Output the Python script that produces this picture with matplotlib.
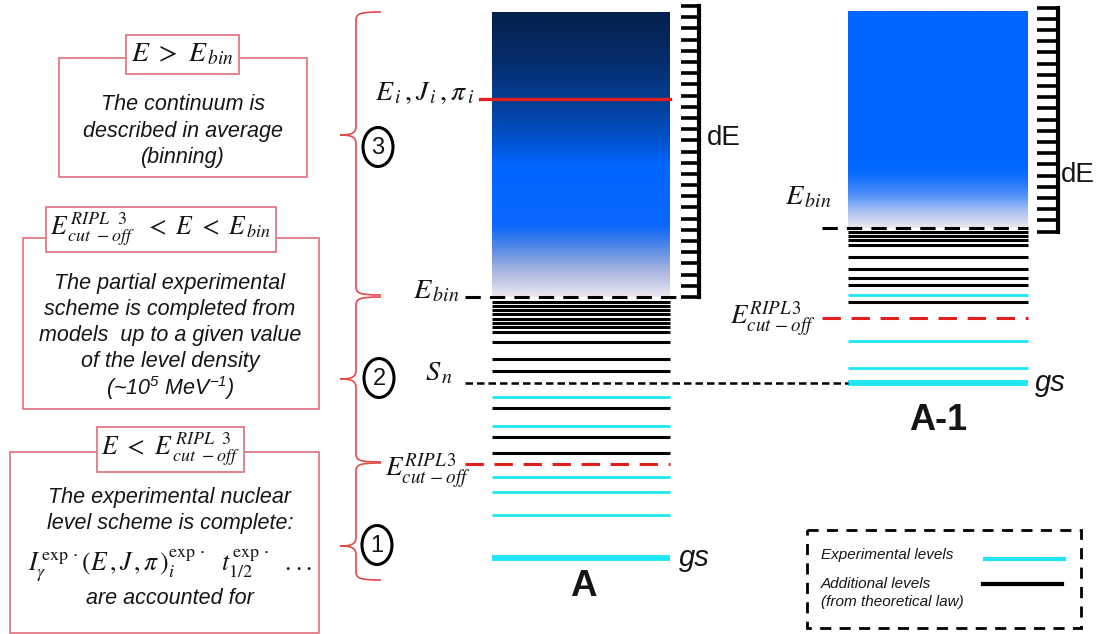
import numpy as np
import matplotlib
matplotlib.use('Agg')
import matplotlib.pyplot as plt
from matplotlib.patches import Rectangle, Ellipse, PathPatch
from matplotlib.path import Path
from matplotlib.colors import LinearSegmentedColormap

# ---------------- data (energies in MeV, arbitrary scale) ----------------
A_gs = 0.0
A_exp_levels = [1.43, 2.20, 2.70, 4.40, 5.37]
A_add_levels = [3.50, 4.03, 5.00, 6.23, 6.63, 7.20, 7.53, 7.70, 7.83, 7.97,
                8.13, 8.27, 8.40, 8.53]
A_cutoff = 3.12
A_Sn = 5.82
A_Ebin = 8.70
A_Ei = 15.3
A_top = 18.2

A1_gs = 0.0
A1_exp_levels = [0.52, 1.43, 2.93]
A1_add_levels = [2.70, 3.27, 3.53, 3.80, 4.20, 4.63, 4.77, 4.90, 5.03]
A1_cutoff = 2.17
A1_Ebin = 5.19
A1_top = 12.4

nucleus_labels = ['A', 'A-1']
legend_labels = ['Experimental levels', 'Additional levels\n(from theoretical law)']

# ---------------- style ----------------
CYAN = '#1EE6F4'
RED = '#E0201E'
PINK = '#E07A86'
BRACE = '#E24A4A'
TXT = '#151515'
plt.rcParams['mathtext.fontset'] = 'custom'
plt.rcParams['mathtext.rm'] = 'Liberation Sans:italic'
plt.rcParams['mathtext.it'] = 'Liberation Sans:italic'
plt.rcParams['font.family'] = ['Liberation Sans', 'DejaVu Sans']

W, H = 1101, 634
fig = plt.figure(figsize=(W / 100, H / 100), dpi=100)
ax = fig.add_axes([0, 0, 1, 1])          # pixel-coordinate annotation axes
ax.set_xlim(0, W); ax.set_ylim(H, 0); ax.axis('off')
axe = fig.add_axes([0, 0, 1, 1])         # energy axes
gs_px, px_per_mev = 558, 30.0
axe.axis('off')
axe.patch.set_alpha(0)

A_x = (492, 670)
A1_x = (848, 1028)
A1_off = A_Sn  # A-1 ground state sits at the neutron separation energy of A

# ---------------- continuum gradients ----------------
cmapA = LinearSegmentedColormap.from_list('cA', [
    (0.0, '#ECE8F2'), (0.095, '#A2B2DE'), (0.18, '#4C84E8'), (0.25, '#0A68FC'),
    (0.46, '#0066FF'), (0.55, '#0052CE'), (0.69, '#063E94'), (0.83, '#042C6C'),
    (1.0, '#04204C')])
cmapA1 = LinearSegmentedColormap.from_list('cA1', [
    (0.0, '#ECE8F0'), (0.074, '#AAC2F2'), (0.15, '#5090F8'), (0.245, '#0C6CFF'),
    (0.29, '#0066FF'), (1.0, '#0066FF')])
grad = np.linspace(0, 1, 400).reshape(-1, 1)
axe.imshow(grad, cmap=cmapA, origin='lower', aspect='auto',
           extent=[A_x[0], A_x[1], A_Ebin, A_top], zorder=1, interpolation='bilinear')
axe.imshow(grad, cmap=cmapA1, origin='lower', aspect='auto',
           extent=[A1_x[0], A1_x[1], A1_off + A1_Ebin, A1_off + A1_top], zorder=1,
           interpolation='bilinear')
axe.set_xlim(0, W)
axe.set_ylim((gs_px - H) / px_per_mev, gs_px / px_per_mev)

# ---------------- levels ----------------
axe.hlines(A_add_levels, *A_x, colors='black', lw=2.2, zorder=3)
axe.hlines(A_exp_levels, *A_x, colors=CYAN, lw=2.0, zorder=3)
axe.hlines([A_gs], *A_x, colors=CYAN, lw=4.2, zorder=3)
axe.hlines([A1_off + e for e in A1_add_levels], *A1_x, colors='black', lw=2.2, zorder=3)
axe.hlines([A1_off + e for e in A1_exp_levels], *A1_x, colors=CYAN, lw=2.0, zorder=3)
axe.hlines([A1_off + A1_gs], *A1_x, colors=CYAN, lw=4.2, zorder=3)

axe.plot([480, A_x[1]], [A_Ei, A_Ei], color=RED, lw=2.4, zorder=4)
axe.plot([465, A_x[1]], [A_cutoff] * 2, color=RED, lw=2.2, dashes=(6, 3.5), zorder=4)
axe.plot([822, A1_x[1]], [A1_off + A1_cutoff] * 2, color=RED, lw=2.2, dashes=(6, 3.5), zorder=4)
axe.plot([465, 684], [A_Ebin] * 2, color='black', lw=2.2, dashes=(5, 3), zorder=4)
axe.plot([822, A1_x[1]], [A1_off + A1_Ebin] * 2, color='black', lw=2.2, dashes=(5, 3), zorder=4)
axe.plot([465, A1_x[0]], [A_Sn] * 2, color='black', lw=1.8, dashes=(3, 1.6), zorder=4)

# ---------------- dE ladders ----------------
def ladder(x0, x1, e_lo, e_hi, n):
    ticks = np.linspace(e_lo, e_hi, n)
    axe.hlines(ticks, x0, x1, colors='black', lw=2.6, zorder=3)
    axe.plot([x1, x1], [e_lo, e_hi], color='black', lw=3, zorder=3,
             solid_capstyle='projecting')

ladder(681, 699, A_Ebin, A_top + 0.2, 27)
ladder(1037, 1058, A1_off + A1_Ebin - 0.13, A1_off + A1_top + 0.13, 21)

def elabel(x, e, dy_px, s, ha='right', va='baseline', size=20.5, **kw):
    axe.annotate(s, xy=(x, e), xytext=(0, -dy_px * 0.72), textcoords='offset points',
                 ha=ha, va=va, fontsize=size, color=TXT, math_fontfamily='stix',
                 zorder=6, **kw)

elabel(474, A_Ei, 1, r'$E_{\,i}\,,J_{\,i}\,,\pi_{\,i}$', size=20)
elabel(460, A_Ebin, 1, r'$E_{\,bin}$')
elabel(453, A_Sn, -3, r'$S_{\,n}$')
elabel(470, A_cutoff, 11, r'$E_{cut\,-off}^{RIPL\,3}$', size=19.5)
elabel(832, A1_off + A1_Ebin, -23, r'$E_{\,bin}$')
elabel(815, A1_off + A1_cutoff, 6, r'$E_{cut\,-off}^{RIPL\,3}$', size=19.5)

axe.annotate('gs', xy=(679, A_gs), xytext=(0, 0), textcoords='offset points',
             ha='left', va='center', fontsize=21, style='italic', color=TXT)
axe.annotate('gs', xy=(1035, A1_off + A1_gs), xytext=(0, 0), textcoords='offset points',
             ha='left', va='center', fontsize=21, style='italic', color=TXT)
ax.text(707, 138, 'dE', fontsize=20, ha='left', va='center', color=TXT)
ax.text(1061, 175, 'dE', fontsize=20, ha='left', va='center', color=TXT)
ax.text(583, 586, nucleus_labels[0], fontsize=26.5, fontweight='bold',
        ha='center', va='center', color=TXT)
ax.text(938, 421, nucleus_labels[1], fontsize=26, fontweight='bold',
        ha='center', va='center', color=TXT)

# ---------------- braces ----------------
def brace(y0, y1, ym, xe=381, xs=356, xt=340, r=9):
    verts = [(xe, y0), (xs + 2, y0), (xs, y0 + 2), (xs, y0 + r),
             (xs, ym - r),
             (xs, ym - 2), (xs - 4, ym), (xt, ym),
             (xs - 4, ym), (xs, ym + 2), (xs, ym + r),
             (xs, y1 - r),
             (xs, y1 - 2), (xs + 2, y1), (xe, y1)]
    codes = [Path.MOVETO, Path.CURVE4, Path.CURVE4, Path.CURVE4,
             Path.LINETO,
             Path.CURVE4, Path.CURVE4, Path.CURVE4,
             Path.CURVE4, Path.CURVE4, Path.CURVE4,
             Path.LINETO,
             Path.CURVE4, Path.CURVE4, Path.CURVE4]
    ax.add_patch(PathPatch(Path(verts, codes), fill=False, edgecolor=BRACE, lw=1.2))

brace(12, 295, 135)
brace(297, 462, 379)
brace(463, 580, 546)

for (cx, cy, n) in [(378, 147, '3'), (379, 378, '2'), (377, 545, '1')]:
    ax.add_patch(Ellipse((cx, cy), 30, 39, fill=False, edgecolor='black', lw=2.2))
    ax.text(cx, cy + 1, n, fontsize=17, ha='center', va='center', color=TXT)

# ---------------- explanation boxes ----------------
def box(outer, header, htext, lines, cx, ys, hsize=18.5):
    x0, y0, x1, y1 = outer
    ax.add_patch(Rectangle((x0, y0), x1 - x0, y1 - y0, fill=False, edgecolor=PINK, lw=1.3))
    hx0, hy0, hx1, hy1 = header
    ax.add_patch(Rectangle((hx0, hy0), hx1 - hx0, hy1 - hy0, facecolor='white',
                           edgecolor=PINK, lw=1.3, zorder=3))
    ax.text((hx0 + hx1) / 2, (hy0 + hy1) / 2, htext, fontsize=hsize, ha='center',
            va='center', math_fontfamily='stix', color=TXT, zorder=4)
    for s, y in zip(lines, ys):
        kw = dict(fontsize=15.5, style='italic', ha='center', va='center', color=TXT)
        if isinstance(s, tuple):
            s, extra = s
            kw.update(extra)
        ax.text(cx, y, s, **kw)

box((59, 58, 307, 177), (126, 35, 239, 74), r'$E\ >\ E_{\,bin}$',
    ['The continuum is', 'described in average', '(binning)'], 183, [105, 131, 157],
    hsize=20)
box((23, 238, 319, 409), (46, 207, 276, 252),
    r'$E_{\,cut\ -off}^{\,RIPL\ \ 3}\ \ <\ E\ <\ E_{\,bin}$',
    ['The partial experimental', 'scheme is completed from',
     'models  up to a given value', 'of the level density',
     (r'(~10$^{5}$ MeV$^{-1}$)', dict(math_fontfamily='custom'))],
    170, [283, 309, 336, 362, 388])
box((10, 452, 319, 633), (97, 427, 244, 472),
    r'$E\ <\ E_{\,cut\ -off}^{\,RIPL\ \ 3}$',
    ['The experimental nuclear', 'level scheme is complete:',
     (r'$I_{\gamma}^{\,\exp\cdot}(E\,,J\,,\pi\,)_{i}^{\exp\cdot}\ \ t_{1/2}^{\,\exp\cdot}\ \ ...$',
      dict(math_fontfamily='stix', fontsize=18.5, style='normal')),
     'are accounted for'],
    170, [497, 523, 566, 598])

# ---------------- legend ----------------
ax.add_patch(Rectangle((807, 530), 274, 98, fill=False, edgecolor='black', lw=2,
                       linestyle=(0, (4, 3))))
ax.text(821, 555, legend_labels[0], fontsize=11, style='italic', va='center', color=TXT)
ax.text(821, 593, legend_labels[1], fontsize=11, style='italic', va='center',
        linespacing=1.45, color=TXT)
ax.plot([985, 1064], [559, 559], color=CYAN, lw=3)
ax.plot([983, 1062], [584, 584], color='black', lw=3)

fig.savefig('out.png', dpi=100)
